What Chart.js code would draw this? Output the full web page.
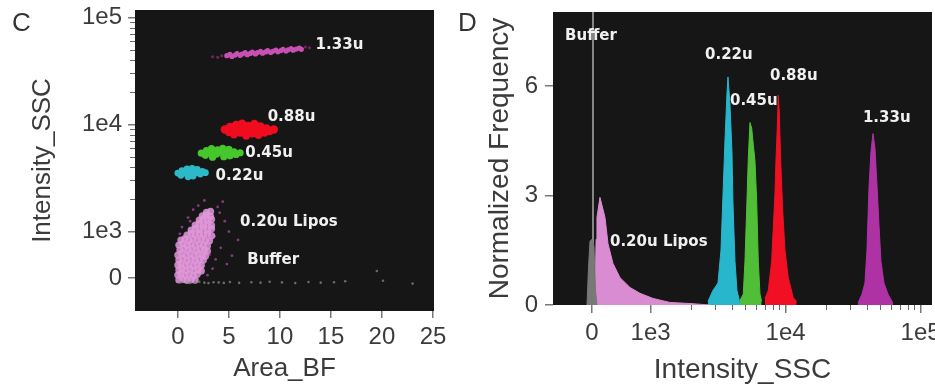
<!DOCTYPE html>
<html>
<head>
<meta charset="utf-8">
<script src="https://cdn.jsdelivr.net/npm/chart.js@4.4.1/dist/chart.umd.min.js"></script>
<style>
html, body { margin: 0; padding: 0; background: #fff; overflow: hidden; }
#wrap { position: relative; width: 935px; height: 388px; overflow: hidden; }
#chartC { position: absolute; left: 0; top: 0; }
#chartD { position: absolute; left: 470px; top: 0; }
.tag { position: absolute; top: 9px; font: 26px/26px "Liberation Sans", Arial, sans-serif; color: #333; }
</style>
</head>
<body>
<div id="wrap">
  <canvas id="chartC" width="470" height="388"></canvas>
  <canvas id="chartD" width="520" height="388"></canvas>
  <div class="tag" style="left:12px">C</div>
  <div class="tag" style="left:458px">D</div>
</div>
<script>
// symlog style axis used by both panels: linear below 1e3, log above
var LIN = 1000;
function toAxis(v) {
    if (Math.abs(v) < LIN) return v / (LIN * Math.LN10);
    return Math.sign(v) * (1 / Math.LN10 + Math.log10(Math.abs(v) / LIN));
}

// ---- panel C : Area_BF vs Intensity_SSC ----
var cXTicks = [0, 5, 10, 15, 20, 25];
var cYTicks = [0, 1e3, 1e4, 1e5];
var cYTickLabels = ['0', '1e3', '1e4', '1e5'];
var sscMinor = [2e3, 3e3, 4e3, 5e3, 6e3, 7e3, 8e3, 9e3, 2e4, 3e4, 4e4, 5e4, 6e4, 7e4, 8e4, 9e4];

var bufferDots = [[0.3, -90], [1.2, -105], [2.1, -80], [3.0, -110], [4.0, -95], [5.1, -85], [6.0, -105],
    [7.2, -90], [8.1, -100], [9.0, -80], [10.2, -95], [11.5, -110], [12.8, -85], [14.0, -100], [15.3, -90],
    [20.1, -60], [23.0, -120], [19.5, 150], [16.4, -70], [1.7, -95], [2.6, -100], [3.5, -90], [4.5, -105]];
var liposDots = [[0.1, -43], [0.5, -30], [0.9, -50], [1.3, -35], [1.7, -45],
    [0.0, 65], [0.3, 90], [0.7, 60], [1.1, 85], [1.5, 55], [1.9, 80],
    [0.1, 172], [0.4, 200], [0.8, 165], [1.2, 190], [1.6, 160], [2.0, 185], [2.3, 150],
    [0.0, 280], [0.3, 310], [0.7, 270], [1.1, 300], [1.5, 265], [1.9, 295], [2.3, 270],
    [0.1, 387], [0.5, 420], [0.9, 380], [1.3, 410], [1.7, 375], [2.1, 405], [2.5, 385],
    [0.0, 495], [0.4, 530], [0.8, 490], [1.2, 520], [1.6, 480], [2.0, 515], [2.4, 500], [2.7, 470],
    [0.2, 602], [0.6, 640], [1.0, 600], [1.4, 630], [1.8, 590], [2.2, 625], [2.6, 605], [2.9, 580],
    [0.1, 710], [0.5, 740], [0.9, 705], [1.3, 735], [1.7, 700], [2.1, 730], [2.5, 715], [2.9, 690],
    [0.3, 818], [0.7, 850], [1.1, 810], [1.5, 845], [1.9, 820], [2.3, 850], [2.7, 815], [3.1, 800],
    [0.9, 925], [1.3, 960], [1.7, 930], [2.1, 965], [2.5, 925], [2.9, 950], [3.3, 910],
    [1.3, 1033], [1.7, 1070], [2.1, 1040], [2.5, 1075], [2.9, 1030], [3.3, 1060],
    [1.7, 1151], [2.1, 1190], [2.5, 1150], [2.9, 1180], [3.3, 1140],
    [2.1, 1282], [2.5, 1320], [2.9, 1280], [3.3, 1300],
    [2.4, 1400], [2.8, 1430], [3.2, 1390], [2.8, 1510], [3.2, 1540]];
var liposSparse = [[0.4, 1100], [1.0, 1350], [3.6, 900], [4.2, 650], [4.6, 1250], [5.3, 480], [3.9, 1700],
    [2.0, 1750], [4.8, 300], [5.9, 820], [3.4, 200], [4.1, 1500], [2.9, 60], [5.0, 1000], [1.5, 1600],
    [3.7, 400], [6.4, 1300], [4.4, 1900], [0.2, 950], [2.6, 1950], [3.1, 500], [2.4, 250], [1.2, 1250]];
var u022Dots = [[0.0, 3520], [0.3, 3350], [0.4, 3700], [0.8, 3500], [0.9, 3850], [1.0, 3250], [1.3, 3600],
    [1.4, 3900], [1.5, 3300], [1.8, 3550], [1.9, 3800], [2.2, 3450], [2.4, 3650], [2.7, 3550]];
var u045Dots = [[2.3, 5400], [2.7, 5150], [2.8, 5700], [3.2, 5450], [3.3, 5950], [3.4, 4950], [3.8, 5300],
    [3.9, 5800], [4.3, 5500], [4.4, 6000], [4.5, 5000], [4.9, 5400], [5.0, 5850], [5.1, 5100], [5.5, 5550],
    [5.7, 5250], [6.1, 5450]];
var u088Dots = [[4.6, 9000], [5.0, 8500], [5.1, 9500], [5.5, 8100], [5.6, 8900], [5.7, 9900], [6.1, 8400],
    [6.2, 9300], [6.3, 10200], [6.7, 7900], [6.8, 8800], [6.9, 9700], [7.3, 8300], [7.4, 9200], [7.5, 10100],
    [7.9, 8000], [8.0, 8800], [8.1, 9600], [8.5, 8400], [8.7, 9200], [9.0, 8700], [9.4, 9000]];
var u133Dots = [[4.8, 44000], [5.1, 45200], [5.3, 43300], [5.6, 44600], [5.8, 46000], [6.1, 44300],
    [6.3, 45600], [6.6, 46900], [6.8, 44900], [7.1, 46200], [7.3, 47600], [7.6, 45700], [7.8, 47000],
    [8.1, 48300], [8.3, 46400], [8.6, 47700], [8.8, 49000], [9.1, 47100], [9.3, 48400], [9.6, 49700],
    [9.8, 47800], [10.1, 49100], [10.3, 50500], [10.6, 48600], [10.8, 49900], [11.1, 51200], [11.3, 49500],
    [11.6, 50800], [11.9, 51800], [12.1, 50500]];
var u133Faint = [[3.4, 43000], [3.9, 42500], [4.3, 44000], [12.5, 53000], [12.9, 52200]];

var cLabelText = ['1.33u', '0.88u', '0.45u', '0.22u', '0.20u Lipos', 'Buffer'];
var cLabelX = [13.5, 8.8, 6.6, 3.7, 6.1, 6.8];
var cLabelSSC = [55000, 11800, 5400, 3300, 1230, 390];

// ---- panel D : histograms of Intensity_SSC ----
var dXTicks = [0, 1e3, 1e4, 1e5];
var dXTickLabels = ['0', '1e3', '1e4', '1e5'];
var dYTicks = [0, 3, 6];

var buffSSC = [-85, -60, -34, 0, 34, 60, 85];
var buffFreq = [0, 1.0, 1.75, 1.8, 1.6, 0.4, 0];
var buffPeakSSC = 17;
var liposSSC = [51, 70, 85, 136, 222, 273, 358, 478, 648, 819, 1041, 1391, 1957, 2754];
var liposFreq = [0, 1.8, 2.4, 2.95, 2.4, 1.68, 1.14, 0.75, 0.48, 0.32, 0.18, 0.07, 0.04, 0];
var u022SSC = [2661, 2897, 3155, 3321, 3436, 3555, 3679, 3742, 3872, 4006, 4075, 4217, 4363, 4592];
var u022Freq = [0.1, 0.4, 0.6, 1.5, 3.0, 4.5, 5.8, 6.25, 5.5, 4.2, 2.8, 1.2, 0.4, 0.05];
var u045SSC = [4592, 4858, 5000, 5148, 5290, 5446, 5607, 5762, 5932, 6107, 6276, 6459, 6649];
var u045Freq = [0.12, 0.3, 1.2, 2.6, 4.0, 5.0, 4.85, 4.4, 3.95, 2.85, 1.2, 0.3, 0.1];
var u088SSC = [7033, 7440, 7884, 8103, 8341, 8485, 8675, 8824, 8976, 9194, 9513, 9893, 10466, 11400, 12078];
var u088Freq = [0.18, 0.4, 1.2, 2.1, 3.05, 3.95, 4.85, 5.75, 5.3, 3.95, 2.6, 1.5, 0.75, 0.2, 0.1];
var u133SSC = [34360, 36790, 38710, 40060, 41460, 42900, 44390, 45920, 47520, 49170, 50870, 53550, 57330, 62420];
var u133Freq = [0.05, 0.3, 0.6, 1.5, 3.2, 4.2, 4.7, 4.3, 3.3, 2.2, 1.2, 0.6, 0.3, 0.05];

var dLabelText = ['Buffer', '0.22u', '0.88u', '0.45u', '1.33u', '0.20u Lipos'];
var dLabelSSC = [-460, 2530, 7660, 3870, 37400, 307];
var dLabelFreq = [7.38, 6.84, 6.26, 5.60, 5.11, 1.71];

var axisFont = '"Liberation Sans", Arial, sans-serif';
var axisColor = '#3b3b3b';

var plotBackground = {
    id: 'plotBackground',
    beforeDraw: function (chart, args, opts) {
        var a = chart.chartArea, ctx = chart.ctx;
        ctx.save();
        ctx.fillStyle = opts.color;
        ctx.fillRect(a.left, a.top, a.right - a.left, a.bottom - a.top);
        ctx.restore();
    }
};
var minorTicks = {
    id: 'minorTicks',
    afterDraw: function (chart, args, opts) {
        var s = chart.scales[opts.axis], ctx = chart.ctx;
        ctx.save();
        ctx.strokeStyle = opts.color;
        ctx.lineWidth = 1;
        opts.values.forEach(function (v) {
            var p = Math.round(s.getPixelForValue(toAxis(v))) + 0.5;
            ctx.beginPath();
            if (opts.axis === 'y') { ctx.moveTo(s.right - opts.length, p); ctx.lineTo(s.right, p); }
            else { ctx.moveTo(p, s.top); ctx.lineTo(p, s.top + opts.length); }
            ctx.stroke();
        });
        ctx.restore();
    }
};
var plotLabels = {
    id: 'plotLabels',
    afterDatasetsDraw: function (chart, args, opts) {
        var ctx = chart.ctx, xs = chart.scales.x, ys = chart.scales.y;
        ctx.save();
        ctx.font = 'bold 15px "DejaVu Sans"';
        ctx.fillStyle = '#f0f0f0';
        ctx.textAlign = 'left';
        ctx.textBaseline = 'middle';
        opts.items.forEach(function (it) {
            ctx.fillText(it.text, xs.getPixelForValue(it.x), ys.getPixelForValue(it.y));
        });
        ctx.restore();
    }
};

// drop the automatic label padding so the plot boxes sit where the reference has them
function noPad(s) {
    s.paddingTop = 0; s.paddingBottom = 0; s.paddingLeft = 0; s.paddingRight = 0;
}

function pts(list) {
    return list.map(function (p) { return { x: p[0], y: toAxis(p[1]) }; });
}
function hist(ssc, freq) {
    return ssc.map(function (v, i) { return { x: toAxis(v), y: freq[i] }; });
}
function dotSet(list, color, r) {
    return { data: pts(list), backgroundColor: color, pointRadius: r, pointBorderWidth: 0 };
}
function histSet(ssc, freq, color) {
    return { data: hist(ssc, freq), backgroundColor: color, borderColor: color, borderWidth: 1,
        fill: 'origin', pointRadius: 0, tension: 0 };
}

new Chart(document.getElementById('chartC'), {
    type: 'scatter',
    data: {
        datasets: [
            dotSet(bufferDots, 'rgba(120,130,120,0.8)', 1.3),
            dotSet(liposDots, 'rgba(226,150,218,0.85)', 3.6),
            dotSet(liposSparse, 'rgba(150,60,140,0.9)', 1.4),
            dotSet(u022Dots, 'rgb(45,185,200)', 3.4),
            dotSet(u045Dots, 'rgb(70,200,45)', 3.6),
            dotSet(u088Dots, 'rgb(240,12,30)', 4.2),
            dotSet(u133Faint, 'rgba(140,40,120,0.8)', 1.5),
            dotSet(u133Dots, 'rgb(200,80,180)', 2.6)
        ]
    },
    plugins: [plotBackground, minorTicks, plotLabels],
    options: {
        responsive: false,
        animation: false,
        devicePixelRatio: 1,
        events: [],
        layout: { padding: { left: 0, top: 10, right: 36, bottom: 0 } },
        plugins: {
            legend: { display: false },
            tooltip: { enabled: false },
            plotBackground: { color: '#161616' },
            minorTicks: { axis: 'y', values: sscMinor, length: 5, color: '#666' },
            plotLabels: {
                items: cLabelText.map(function (t, i) {
                    return { text: t, x: cLabelX[i], y: toAxis(cLabelSSC[i]) };
                })
            }
        },
        scales: {
            x: {
                type: 'linear',
                min: -4.2,
                max: 25.1,
                afterBuildTicks: function (s) { s.ticks = cXTicks.map(function (v) { return { value: v }; }); },
                afterFit: function (s) { s.height = 77; noPad(s); },
                grid: { drawOnChartArea: false, tickLength: 7, color: '#777', tickColor: '#777', lineWidth: 1.5 },
                border: { display: false },
                ticks: { font: { family: axisFont, size: 24 }, color: axisColor, padding: 5, maxRotation: 0, autoSkip: false },
                title: { display: true, text: 'Area_BF', font: { family: axisFont, size: 26 }, color: axisColor,
                    padding: { top: 0, bottom: 4 } }
            },
            y: {
                type: 'linear',
                min: toAxis(-710),
                max: toAxis(117600),
                afterBuildTicks: function (s) { s.ticks = cYTicks.map(function (v) { return { value: toAxis(v) }; }); },
                afterFit: function (s) { s.width = 135; noPad(s); },
                grid: { drawOnChartArea: false, tickLength: 7, color: '#777', tickColor: '#777', lineWidth: 1.5 },
                border: { display: false },
                ticks: {
                    font: { family: axisFont, size: 24 }, color: axisColor, padding: 6, autoSkip: false,
                    callback: function (value, index) { return cYTickLabels[index]; }
                },
                title: { display: true, text: 'Intensity_SSC', font: { family: axisFont, size: 26 }, color: axisColor,
                    padding: { top: 27, bottom: 0 } }
            }
        }
    }
});

new Chart(document.getElementById('chartD'), {
    type: 'line',
    data: {
        datasets: [
            histSet(buffSSC, buffFreq, 'rgb(120,120,120)'),
            histSet(liposSSC, liposFreq, 'rgb(218,140,210)'),
            histSet(u022SSC, u022Freq, 'rgb(40,182,205)'),
            histSet(u045SSC, u045Freq, 'rgb(80,190,55)'),
            histSet(u088SSC, u088Freq, 'rgb(240,15,35)'),
            histSet(u133SSC, u133Freq, 'rgb(175,50,165)'),
            {
                data: [{ x: toAxis(buffPeakSSC), y: 0 }, { x: toAxis(buffPeakSSC), y: 8.1 }],
                borderColor: 'rgb(135,135,135)', borderWidth: 2, fill: false, pointRadius: 0
            }
        ]
    },
    plugins: [plotBackground, minorTicks, plotLabels],
    options: {
        responsive: false,
        animation: false,
        devicePixelRatio: 1,
        events: [],
        layout: { padding: { left: 0, top: 12, right: 58, bottom: 0 } },
        plugins: {
            legend: { display: false },
            tooltip: { enabled: false },
            plotBackground: { color: '#161616' },
            minorTicks: { axis: 'x', values: sscMinor, length: 5, color: '#666' },
            plotLabels: {
                items: dLabelText.map(function (t, i) {
                    return { text: t, x: toAxis(dLabelSSC[i]), y: dLabelFreq[i] };
                })
            }
        },
        scales: {
            x: {
                type: 'linear',
                min: toAxis(-665),
                max: toAxis(121500),
                afterBuildTicks: function (s) { s.ticks = dXTicks.map(function (v) { return { value: toAxis(v) }; }); },
                afterFit: function (s) { s.height = 83; noPad(s); },
                grid: { drawOnChartArea: false, tickLength: 8, color: '#777', tickColor: '#777', lineWidth: 1.5 },
                border: { display: false },
                ticks: {
                    font: { family: axisFont, size: 24 }, color: axisColor, padding: 6, maxRotation: 0, autoSkip: false,
                    callback: function (value, index) { return dXTickLabels[index]; }
                },
                title: { display: true, text: 'Intensity_SSC', font: { family: axisFont, size: 28 }, color: axisColor,
                    padding: { top: 0, bottom: 1 } }
            },
            y: {
                type: 'linear',
                min: 0,
                max: 8.03,
                afterBuildTicks: function (s) { s.ticks = dYTicks.map(function (v) { return { value: v }; }); },
                afterFit: function (s) { s.width = 83; noPad(s); },
                grid: { drawOnChartArea: false, tickLength: 8, color: '#777', tickColor: '#777', lineWidth: 1.5 },
                border: { display: false },
                ticks: { font: { family: axisFont, size: 24 }, color: axisColor, padding: 7, autoSkip: false },
                title: { display: true, text: 'Normalized Frequency', font: { family: axisFont, size: 28 }, color: axisColor,
                    padding: { top: 13, bottom: 0 } }
            }
        }
    }
});
</script>
</body>
</html>
